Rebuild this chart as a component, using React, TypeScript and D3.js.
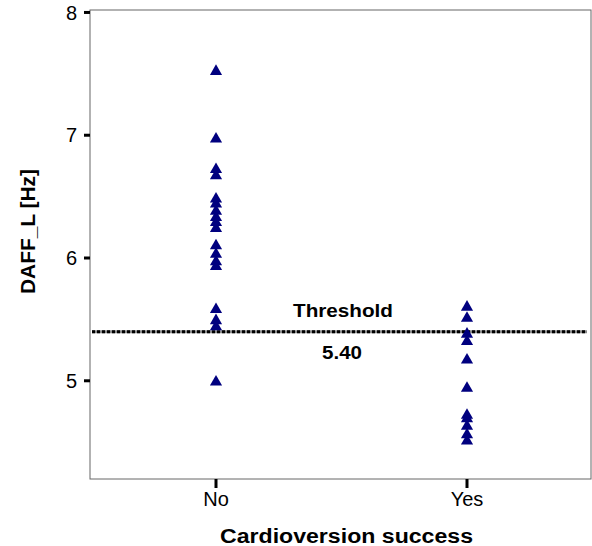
import React, { useEffect, useRef } from 'react';
import * as d3 from 'd3';

const groups = ['No', 'Yes'];
const noValues = [7.52, 6.97, 6.72, 6.67, 6.48, 6.44, 6.38, 6.33, 6.29, 6.24, 6.1, 6.03, 5.97, 5.93, 5.58, 5.49, 5.44, 4.99];
const yesValues = [5.6, 5.51, 5.38, 5.32, 5.17, 4.94, 4.72, 4.69, 4.63, 4.56, 4.51];
const yTicks = [5, 6, 7, 8];
const threshold = 5.4;

function App() {
  const ref = useRef(null);
  const width = 592;
  const height = 546;

  useEffect(() => {
    if (!ref.current) return;
    const svg = d3.select(ref.current);
    svg.selectAll('*').remove();

    const font = 'Liberation Sans, Arial, sans-serif';
    const left = 90, right = 591, top = 10, bottom = 479;
    const y = d3.scaleLinear().domain([4.2, 8.02]).range([bottom, top]);
    const x = d3.scalePoint().domain(groups).range([216, 467]);

    // frame
    svg.append('rect')
      .attr('x', left).attr('y', top)
      .attr('width', right - left).attr('height', bottom - top)
      .attr('fill', 'none').attr('stroke', '#666').attr('stroke-width', 1);

    // y ticks
    const yAxis = svg.append('g');
    yTicks.forEach(t => {
      yAxis.append('line')
        .attr('x1', left - 6).attr('x2', left)
        .attr('y1', y(t)).attr('y2', y(t))
        .attr('stroke', '#000').attr('stroke-width', 3);
      yAxis.append('text')
        .attr('x', left - 13).attr('y', y(t))
        .attr('dy', '0.36em').attr('text-anchor', 'end')
        .attr('font-family', font)
        .attr('font-size', 20).text(t);
    });

    // x ticks
    groups.forEach(g => {
      svg.append('line')
        .attr('x1', x(g)).attr('x2', x(g))
        .attr('y1', bottom).attr('y2', bottom + 9)
        .attr('stroke', '#000').attr('stroke-width', 3);
      svg.append('text')
        .attr('x', x(g)).attr('y', bottom + 27)
        .attr('text-anchor', 'middle')
        .attr('font-family', font)
        .attr('font-size', 20).text(g);
    });

    // axis titles (stretched a bit, like the original)
    svg.append('text')
      .attr('x', 220).attr('y', 543)
      .attr('font-family', font)
      .attr('font-weight', 'bold').attr('font-size', 20)
      .attr('textLength', 253).attr('lengthAdjust', 'spacingAndGlyphs')
      .text('Cardioversion success');
    svg.append('text')
      .attr('transform', `translate(35,${294}) rotate(-90)`)
      .attr('font-family', font)
      .attr('font-weight', 'bold').attr('font-size', 21)
      .attr('textLength', 125).attr('lengthAdjust', 'spacingAndGlyphs')
      .text('DAFF_L [Hz]');

    // threshold line
    svg.append('line')
      .attr('x1', left + 2).attr('x2', right - 4)
      .attr('y1', y(threshold)).attr('y2', y(threshold))
      .attr('stroke', '#888').attr('stroke-width', 3);
    svg.append('line')
      .attr('x1', left + 2).attr('x2', right - 4)
      .attr('y1', y(threshold)).attr('y2', y(threshold))
      .attr('stroke', '#000').attr('stroke-width', 3)
      .attr('stroke-dasharray', '3,2');
    svg.append('text')
      .attr('x', 293).attr('y', y(threshold) - 15)
      .attr('font-family', font)
      .attr('font-weight', 'bold').attr('font-size', 18)
      .attr('textLength', 100).attr('lengthAdjust', 'spacingAndGlyphs')
      .text('Threshold');
    svg.append('text')
      .attr('x', 322).attr('y', y(threshold) + 27)
      .attr('font-family', font)
      .attr('font-weight', 'bold').attr('font-size', 18)
      .attr('textLength', 40).attr('lengthAdjust', 'spacingAndGlyphs')
      .text(threshold.toFixed(2));

    // points
    const tri = d3.symbol().type(d3.symbolTriangle).size(64);
    const pts = [
      ...noValues.map(v => ({ g: 'No', v })),
      ...yesValues.map(v => ({ g: 'Yes', v })),
    ];
    svg.append('g').selectAll('path')
      .data(pts)
      .enter()
      .append('path')
      .attr('d', tri)
      .attr('transform', d => `translate(${x(d.g)},${y(d.v)})`)
      .attr('fill', '#00007f');
  }, []);

  return (
    <svg ref={ref} width={width} height={height} style={{ position: 'absolute', left: 0, top: 0 }}></svg>
  );
}

export default App;
